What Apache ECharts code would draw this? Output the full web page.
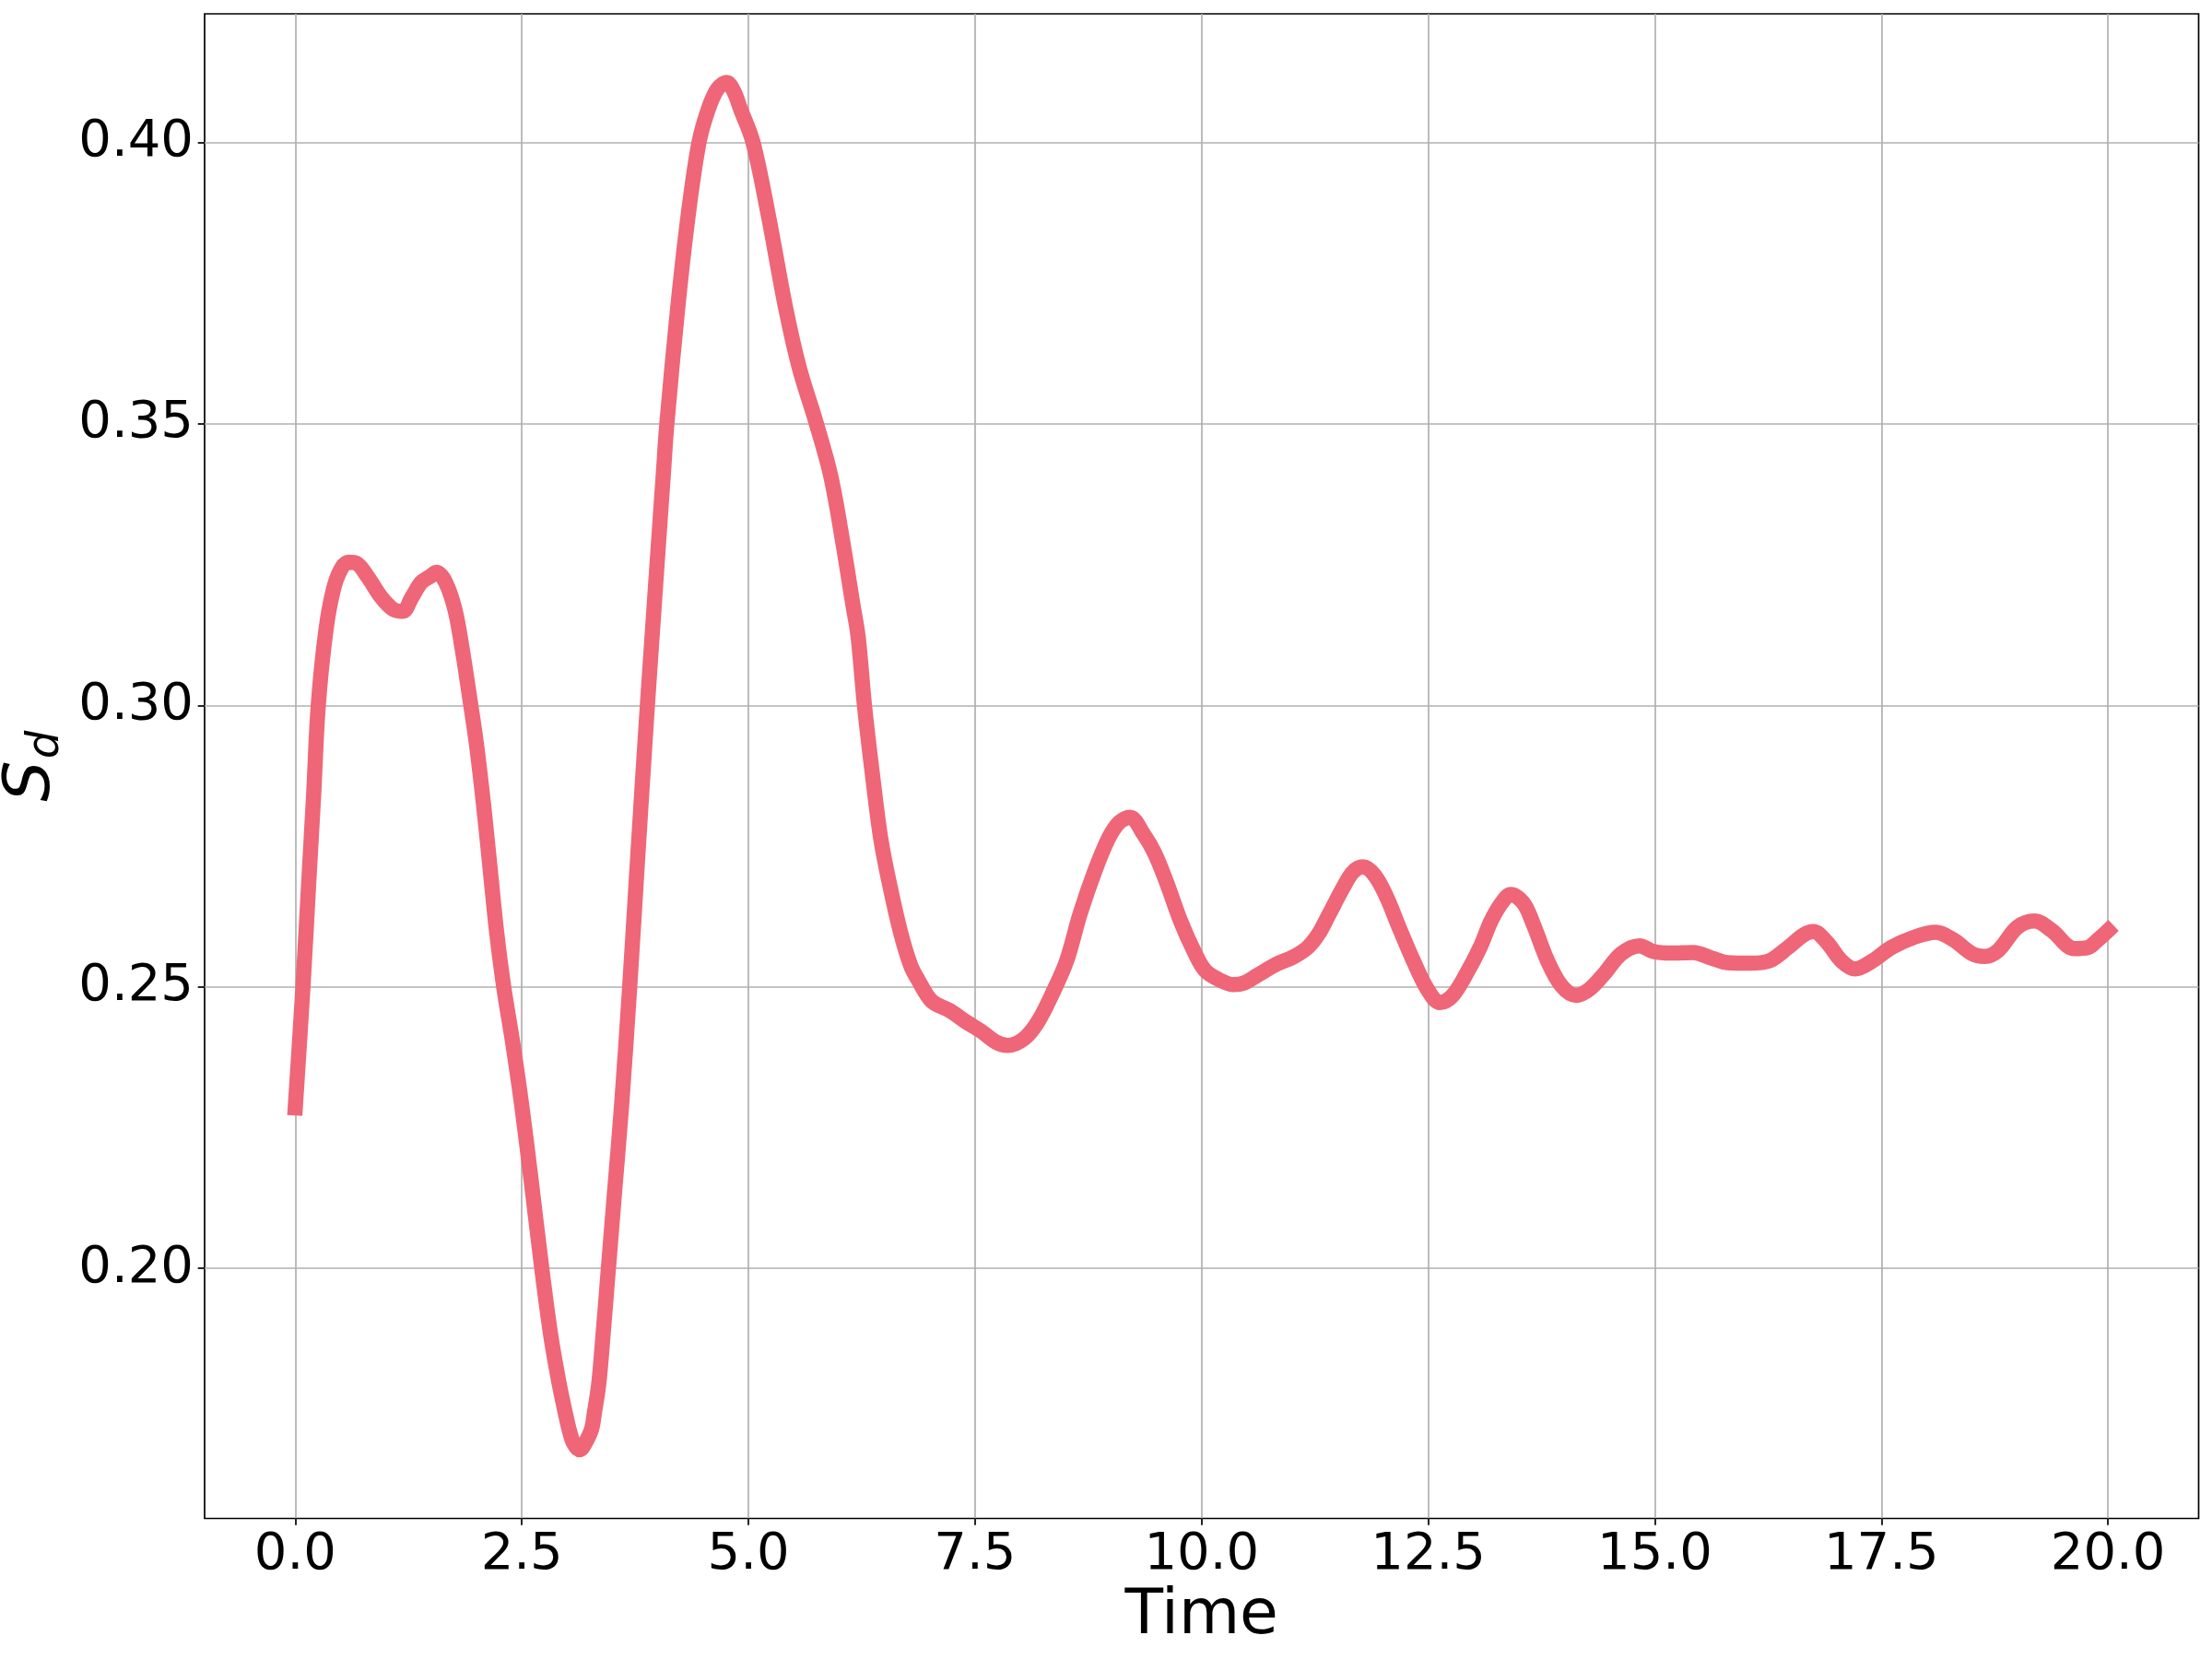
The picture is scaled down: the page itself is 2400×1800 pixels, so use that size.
<!DOCTYPE html>
<html>
<head>
<meta charset="utf-8">
<script src="https://cdn.jsdelivr.net/npm/echarts@6/dist/echarts.min.js"></script>
<style>
html,body{margin:0;padding:0;background:#fff;}
#chart{width:2400px;height:1800px;}
</style>
</head>
<body>
<div id="chart"></div>
<script>
const timeValues = [
  0.00, 0.085, 0.152, 0.203, 0.254, 0.339, 0.423, 0.508, 0.59, 0.677,
  0.796, 0.948, 1.084, 1.186, 1.287, 1.389, 1.49, 1.558, 1.66, 1.762,
  1.836, 1.937, 2.00, 2.08, 2.15, 2.22, 2.30, 2.40, 2.50, 2.60,
  2.72, 2.82, 2.91, 2.98, 3.02, 3.07, 3.14, 3.20, 3.27, 3.30,
  3.35, 3.40, 3.455, 3.52, 3.60, 3.69, 3.78, 3.879, 3.93, 4.00, 4.065, 4.10,
  4.22, 4.335, 4.455, 4.56, 4.66, 4.76, 4.84, 4.91, 5.05, 5.22,
  5.41, 5.56, 5.75, 5.91, 6.05, 6.15, 6.21, 6.28, 6.36, 6.46,
  6.56, 6.68, 6.79, 6.87, 7.02, 7.22, 7.41, 7.57, 7.73, 7.86,
  8.04, 8.19, 8.35, 8.51, 8.66, 8.82, 8.97, 9.09, 9.21, 9.36,
  9.48, 9.61, 9.77, 9.92, 10.04, 10.19, 10.35, 10.47, 10.62, 10.82,
  11.01, 11.17, 11.29, 11.40, 11.56, 11.67, 11.78, 11.91, 12.04, 12.18,
  12.34, 12.49, 12.63, 12.76, 12.92, 13.08, 13.19, 13.31, 13.41, 13.55,
  13.66, 13.82, 13.97, 14.13, 14.28, 14.44, 14.63, 14.83, 14.98, 15.18,
  15.42, 15.63, 15.80, 16.05, 16.26, 16.47, 16.64, 16.75, 16.90, 17.06,
  17.21, 17.40, 17.61, 17.86, 18.10, 18.29, 18.50, 18.64, 18.79, 19.00,
  19.19, 19.38, 19.63, 19.78, 19.89, 20.00
];
const sdValues = [
  0.2285, 0.2500, 0.2695, 0.2841, 0.3000, 0.3134, 0.3207, 0.3243, 0.3254, 0.3252,
  0.3229, 0.3192, 0.3170, 0.3167, 0.3192, 0.3218, 0.3229, 0.3236, 0.3218, 0.3170,
  0.3106, 0.3000, 0.2930, 0.2820, 0.2710, 0.2600, 0.2500, 0.2400, 0.2288, 0.2160,
  0.2000, 0.1880, 0.1797, 0.1743, 0.1715, 0.1690, 0.1678, 0.1690, 0.1715, 0.1743,
  0.1797, 0.1890, 0.2000, 0.2130, 0.2288, 0.2500, 0.2735, 0.2985, 0.3106, 0.3270, 0.3420, 0.3500,
  0.3706, 0.3870, 0.4000, 0.4060, 0.4095, 0.4106, 0.4090, 0.4060, 0.4000, 0.3870,
  0.3706, 0.3600, 0.3500, 0.3406, 0.3281, 0.3181, 0.3122, 0.3000, 0.2888, 0.2763,
  0.2680, 0.2596, 0.2538, 0.2513, 0.2475, 0.2458, 0.2437, 0.2421, 0.2402, 0.2396,
  0.2408, 0.2437, 0.2487, 0.2546, 0.2630, 0.2705, 0.2763, 0.2792, 0.2801, 0.2771,
  0.2738, 0.2687, 0.2616, 0.2562, 0.2529, 0.2513, 0.2504, 0.2507, 0.2521, 0.2540,
  0.2553, 0.2570, 0.2594, 0.2627, 0.2676, 0.2704, 0.2713, 0.2698, 0.2660, 0.2605,
  0.2545, 0.2496, 0.2472, 0.2483, 0.2523, 0.2573, 0.2616, 0.2649, 0.2664, 0.2649,
  0.2611, 0.2545, 0.2502, 0.2485, 0.2496, 0.2523, 0.2559, 0.2573, 0.2563, 0.2560,
  0.2561, 0.2551, 0.2543, 0.2542, 0.2546, 0.2570, 0.2592, 0.2598, 0.2579, 0.2546,
  0.2532, 0.2546, 0.2570, 0.2588, 0.2597, 0.2584, 0.2559, 0.2554, 0.2565, 0.2606,
  0.2617, 0.2600, 0.2568, 0.2570, 0.2584, 0.2600
];
const xTickValues = [0, 2.5, 5, 7.5, 10, 12.5, 15, 17.5, 20];
const yTickValues = [0.20, 0.25, 0.30, 0.35, 0.40];
const xTickLabels = ['0.0', '2.5', '5.0', '7.5', '10.0', '12.5', '15.0', '17.5', '20.0'];
const yTickLabels = ['0.20', '0.25', '0.30', '0.35', '0.40'];

const seriesData = timeValues.map((t, i) => [t, sdValues[i]]);
const FONT = 'DejaVu Sans';

const chart = echarts.init(document.getElementById('chart'), null, {renderer: 'canvas'});
chart.setOption({
  animation: false,
  backgroundColor: '#ffffff',
  grid: {
    left: 222, right: 14.5, top: 15, bottom: 152.5,
    containLabel: false, outerBoundsMode: 'none',
    show: true, borderColor: '#000000', borderWidth: 1.7, backgroundColor: 'transparent'
  },
  xAxis: {
    type: 'value', min: -1, max: 21,
    axisLine: {show: false, onZero: false},
    axisTick: {show: true, customValues: xTickValues, length: 7.3, lineStyle: {color: '#000', width: 1.7}},
    axisLabel: {
      customValues: xTickValues,
      formatter: (v) => xTickLabels[xTickValues.indexOf(v)] ?? v.toFixed(1),
      fontSize: 56, fontFamily: FONT, color: '#000', margin: 12
    },
    splitLine: {show: true, lineStyle: {color: '#b0b0b0', width: 1.7}},
    name: 'Time', nameLocation: 'middle', nameGap: 66,
    nameTextStyle: {fontSize: 68, fontFamily: FONT, color: '#000'}
  },
  yAxis: {
    type: 'value', min: 0.1556, max: 0.4228,
    axisLine: {show: false, onZero: false},
    axisTick: {show: true, customValues: yTickValues, length: 7.3, lineStyle: {color: '#000', width: 1.7}},
    axisLabel: {
      customValues: yTickValues,
      formatter: (v) => {
        const i = yTickValues.findIndex(y => Math.abs(y - v) < 1e-9);
        return i >= 0 ? yTickLabels[i] : v.toFixed(2);
      },
      fontSize: 56, fontFamily: FONT, color: '#000', margin: 12
    },
    splitLine: {show: true, lineStyle: {color: '#b0b0b0', width: 1.7}},
    name: '{s|S}{d|d}', nameLocation: 'middle', nameGap: 134, nameRotate: 90,
    nameTextStyle: {
      color: '#000',
      rich: {
        s: {fontSize: 70, fontStyle: 'italic', fontFamily: FONT, color: '#000', verticalAlign: 'top', lineHeight: 70},
        d: {fontSize: 48, fontStyle: 'italic', fontFamily: FONT, color: '#000', verticalAlign: 'top', lineHeight: 48, padding: [27, 0, 0, 2]}
      }
    }
  },
  series: [{
    type: 'line',
    data: seriesData,
    showSymbol: false,
    smooth: 0.35,
    lineStyle: {color: '#EE6677', width: 16.5, cap: 'square', join: 'round'},
    z: 3
  }]
});
</script>
</body>
</html>
